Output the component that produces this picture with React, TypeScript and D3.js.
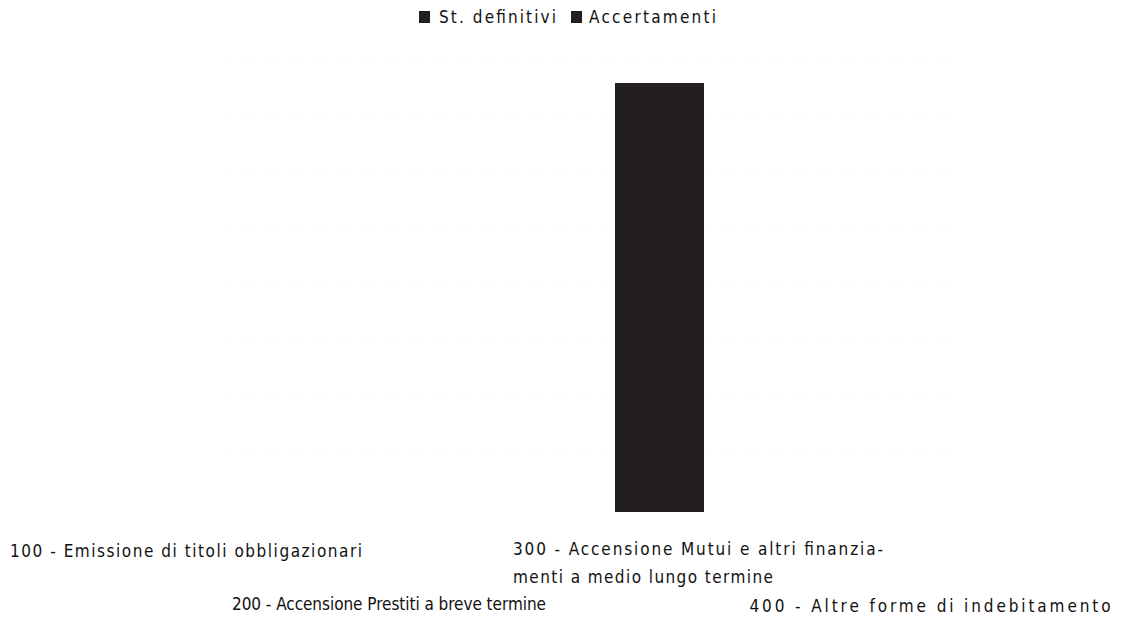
import * as d3 from "d3";

const categories = ["100", "200", "300", "400"];
const labelLines = [
  ["100 - Emissione di titoli obbligazionari"],
  ["200 - Accensione Prestiti a breve termine"],
  ["300 - Accensione Mutui e altri finanzia-", "menti a medio lungo termine"],
  ["400 - Altre forme di indebitamento"],
];
const seriesNames = ["St. definitivi", "Accertamenti"];
// values in millions (axis has no labels)
const stDefinitivi = [0, 0, 7.55, 0];
const accertamenti = [0, 0, 7.55, 0];
const gridTicks = [1, 2, 3, 4, 5, 6, 7, 8];

const W = 1121;
const H = 626;
const PLOT = { left: 178, right: 948, top: 57, bottom: 512 };
const FONT = "'DejaVu Sans Condensed', 'DejaVu Sans', sans-serif";
const BAR_COLOR = "#231f20";

// label row offsets (staggered like the original)
const LABEL_ROW_Y = [557, 610, 555, 612];
const LABEL_DX = [0, -45, 16, 0];
const LABEL_WIDTH = [352, 314, 370, 361];

export default function App() {
  const x = d3
    .scaleBand()
    .domain(categories)
    .range([PLOT.left, PLOT.right])
    .paddingInner(0.543)
    .paddingOuter(0.27);

  const sub = d3.scaleBand().domain(seriesNames).range([0, x.bandwidth()]);

  const y = d3.scaleLinear().domain([0, 8]).range([PLOT.bottom, PLOT.top]);

  const labelX = d3.scaleBand().domain(categories).range([62, 1054]);

  const series = [stDefinitivi, accertamenti];

  return (
    <svg
      width={W}
      height={H}
      style={{ position: "absolute", left: 0, top: 0, background: "#fff" }}
    >
      {/* faint dotted grid */}
      {gridTicks.map((t) => (
        <line
          key={t}
          x1={230}
          x2={955}
          y1={y(t)}
          y2={y(t)}
          stroke="#bbb"
          strokeWidth={1}
          strokeDasharray="1 11"
          opacity={0.25}
        />
      ))}

      {/* bars */}
      {categories.map((c, i) => (
        <g key={c} transform={`translate(${x(c)},0)`}>
          {series.map((s, j) =>
            s[i] > 0 ? (
              <rect
                key={j}
                x={Math.round(sub(seriesNames[j]) as number)}
                y={y(s[i])}
                width={Math.round(sub.bandwidth()) + 1}
                height={y(0) - y(s[i])}
                fill={BAR_COLOR}
                shapeRendering="crispEdges"
              />
            ) : null
          )}
        </g>
      ))}

      {/* legend */}
      <g fontFamily={FONT} fontSize={17} fill="#111">
        <rect x={419} y={11} width={11} height={12} fill={BAR_COLOR} />
        <text x={439} y={23} textLength={117} lengthAdjust="spacing">
          {seriesNames[0]}
        </text>
        <rect x={571} y={11} width={11} height={12} fill={BAR_COLOR} />
        <text x={589} y={23} textLength={127} lengthAdjust="spacing">
          {seriesNames[1]}
        </text>
      </g>

      {/* category labels */}
      <g fontFamily={FONT} fontSize={17} fill="#111">
        {categories.map((c, i) => {
          const cx = (labelX(c) as number) + labelX.bandwidth() / 2 + LABEL_DX[i];
          const left = cx - LABEL_WIDTH[i] / 2;
          return labelLines[i].map((line, k) => (
            <text
              key={c + k}
              x={left}
              y={LABEL_ROW_Y[i] + k * 28}
              textLength={k === 0 ? LABEL_WIDTH[i] : 260}
              lengthAdjust="spacing"
            >
              {line}
            </text>
          ));
        })}
      </g>
    </svg>
  );
}
